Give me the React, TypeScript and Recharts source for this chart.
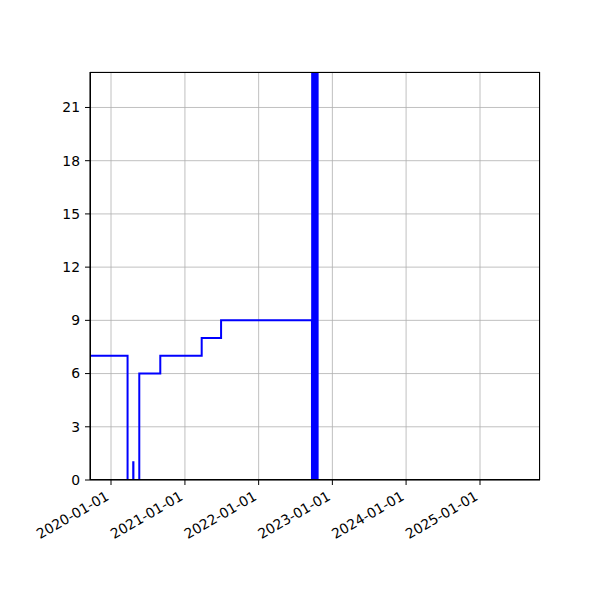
import { LineChart, Line, XAxis, YAxis, CartesianGrid } from "recharts";

// step series (stepAfter)
const stepDates = [
  "2019-09-01", "2020-03-23", "2020-04-20", "2020-04-21", "2020-05-20",
  "2020-09-01", "2021-03-25", "2021-06-29",
];
const stepValues = [7, 0, 1, 0, 6, 7, 8, 9];

// dense burst in autumn 2022, runs far above the top of the axes
const burstDates = [
  "2022-09-22", "2022-09-23", "2022-09-24", "2022-09-25", "2022-09-26",
  "2022-09-27", "2022-09-28", "2022-09-29", "2022-09-30", "2022-10-01",
  "2022-10-02", "2022-10-03", "2022-10-04", "2022-10-05", "2022-10-06",
  "2022-10-07", "2022-10-08", "2022-10-09", "2022-10-10", "2022-10-11",
  "2022-10-12", "2022-10-13", "2022-10-14", "2022-10-15", "2022-10-16",
  "2022-10-17", "2022-10-18", "2022-10-19", "2022-10-20", "2022-10-21",
];
const burstValues = [
  0, 42, 0, 37, 0, 55, 0, 48, 0, 61, 0, 39, 0, 44, 0,
  58, 0, 36, 0, 50, 0, 47, 0, 63, 0, 41, 0, 52, 0, 0,
];

const xTickDates = [
  "2020-01-01", "2021-01-01", "2022-01-01", "2023-01-01", "2024-01-01", "2025-01-01",
];
const yTicks = [0, 3, 6, 9, 12, 15, 18, 21];

const toTs = (s: string) => Date.parse(s + "T00:00:00Z");

const data = [
  ...stepDates.map((d, i) => ({ t: toTs(d), v: stepValues[i] })),
  ...burstDates.map((d, i) => ({ t: toTs(d), v: burstValues[i] })),
];

const xDomain = [toTs("2019-09-19"), toTs("2025-10-25")];
const FONT = "DejaVu Sans, sans-serif";

const DateTick = (props: any) => {
  const { x, y, payload } = props;
  const label = new Date(payload.value).toISOString().slice(0, 10);
  return (
    <g transform={`translate(${x - 1},${y + 9})`}>
      <text
        textAnchor="end"
        transform="rotate(-30)"
        fontSize={13.9}
        fontFamily={FONT}
        fill="#000"
      >
        {label}
      </text>
    </g>
  );
};

export default function App() {
  return (
    <div style={{ position: "absolute", left: 0, top: 0, width: 600, height: 600, background: "#fff" }}>
      <LineChart
        width={600}
        height={600}
        data={data}
        margin={{ top: 72, right: 60, bottom: 0, left: 0 }}
      >
        <CartesianGrid stroke="#b0b0b0" strokeWidth={0.8} />
        <XAxis
          dataKey="t"
          type="number"
          scale="time"
          domain={xDomain}
          allowDataOverflow
          ticks={xTickDates.map(toTs)}
          tick={<DateTick />}
          tickSize={5}
          tickMargin={5}
          height={120}
          interval={0}
          stroke="#000"
          tickLine={{ stroke: "#000" }}
          axisLine={{ stroke: "#000" }}
        />
        <YAxis
          type="number"
          domain={[0, 23]}
          allowDataOverflow
          ticks={yTicks}
          interval={0}
          width={90}
          tickSize={5}
          tickMargin={5}
          tick={{ fontSize: 13.9, fontFamily: FONT, fill: "#000" }}
          tickLine={{ stroke: "#000" }}
          axisLine={{ stroke: "#000" }}
        />
        <Line
          dataKey="v"
          type="stepAfter"
          stroke="#0000ff"
          strokeWidth={2}
          dot={false}
          isAnimationActive={false}
        />
      </LineChart>
      <div
        style={{
          position: "absolute",
          left: 90,
          top: 72,
          width: 450,
          height: 408,
          border: "1px solid #000",
          boxSizing: "border-box",
          pointerEvents: "none",
        }}
      />
    </div>
  );
}
